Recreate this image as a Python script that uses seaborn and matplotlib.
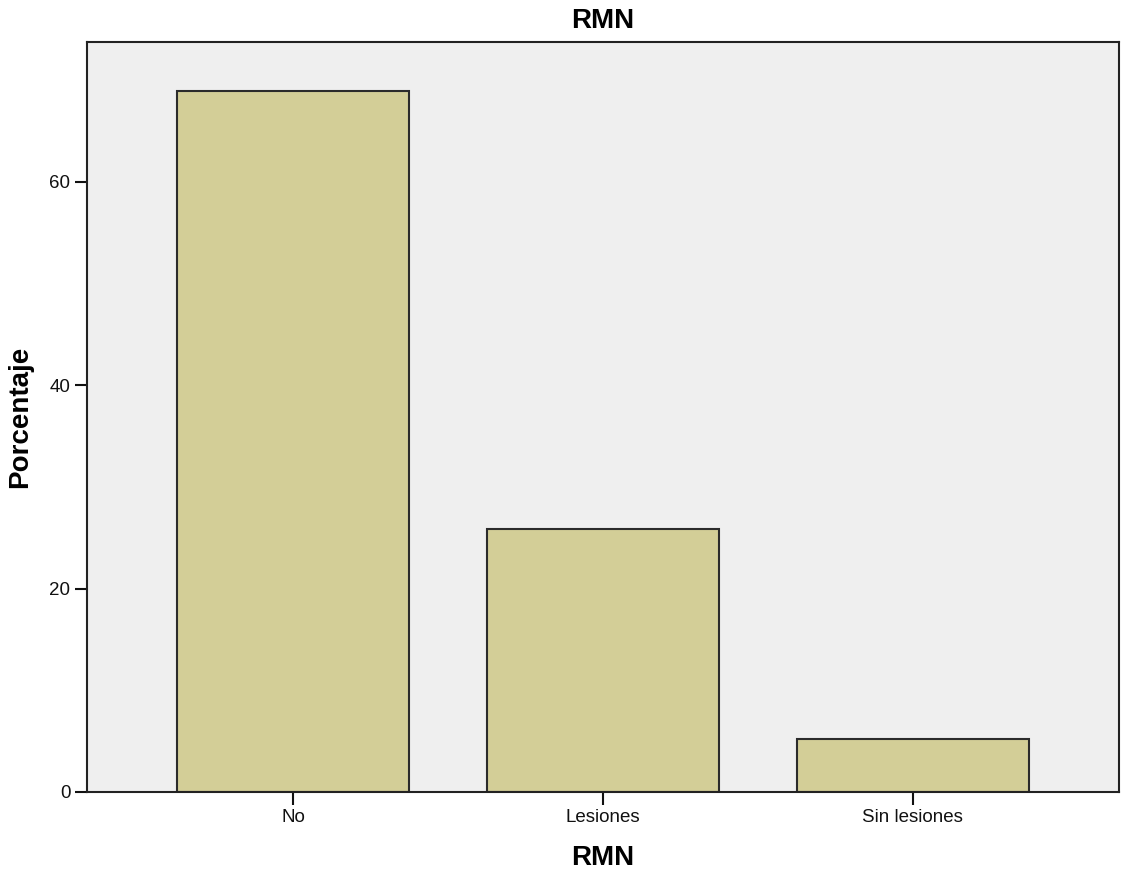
import matplotlib
matplotlib.use("Agg")
import matplotlib.pyplot as plt
import seaborn as sns
import pandas as pd

# data
categories = ["No", "Lesiones", "Sin lesiones"]
percent = [68.97, 25.86, 5.17]
y_ticks = [0, 20, 40, 60]

sns.set_style("white")
plt.rcParams["font.family"] = ["Liberation Sans", "DejaVu Sans"]
plt.rcParams["text.color"] = "black"
plt.rcParams["axes.labelcolor"] = "black"
plt.rcParams["xtick.color"] = "black"
plt.rcParams["ytick.color"] = "black"

df = pd.DataFrame({"RMN": categories, "Porcentaje": percent})

fig = plt.figure(figsize=(11.21, 8.76), dpi=100)
ax = fig.add_axes([0.0776, 0.0959, 0.9206, 0.8561])
ax.set_facecolor("#EFEFEF")

sns.barplot(data=df, x="RMN", y="Porcentaje", ax=ax, color="#D3CE97",
            saturation=1, width=0.748, edgecolor="#2b2b2b", linewidth=1.5)

ax.set_xlim(-0.665, 2.665)
ax.set_ylim(0, 73.75)
ax.set_yticks(y_ticks)

for s in ax.spines.values():
    s.set_visible(True)
    s.set_color("#222222")
    s.set_linewidth(1.5)

ax.tick_params(axis="both", direction="out", length=9, width=1.5,
               bottom=True, left=True, colors="#111111",
               labelsize=13.5, pad=3)

ax.set_title("RMN", fontsize=20, fontweight="bold", pad=10)
ax.set_xlabel("RMN", fontsize=20, fontweight="bold", labelpad=14)
ax.set_ylabel("Porcentaje", fontsize=20, fontweight="bold", labelpad=12)

fig.savefig("out.png", dpi=100)
